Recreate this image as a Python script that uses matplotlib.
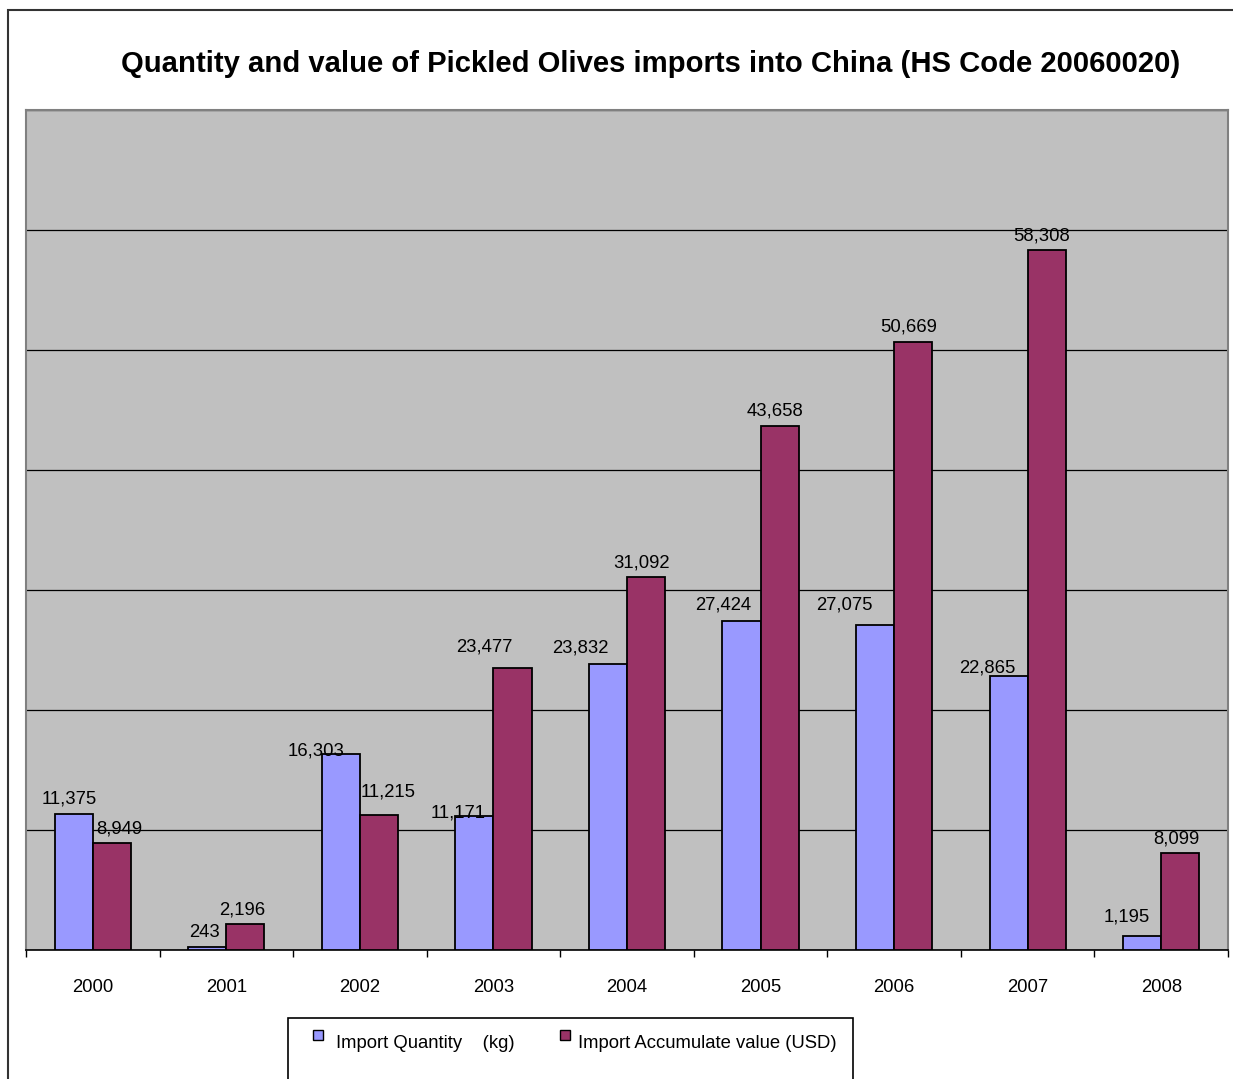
import matplotlib.pyplot as plt
from matplotlib.patches import Rectangle
import numpy as np

plt.rcParams['font.family'] = ['Liberation Sans', 'DejaVu Sans']

years = ['2000', '2001', '2002', '2003', '2004', '2005', '2006', '2007', '2008']
quantity = [11375, 243, 16303, 11171, 23832, 27424, 27075, 22865, 1195]
value = [8949, 2196, 11215, 23477, 31092, 43658, 50669, 58308, 8099]

# label nudges in pixels (dx, dy above the bar top)
qty_offsets = [(-4, 14), (-3, 15), (-25, 3), (-16, 3), (-28, 16), (-18, 16), (-31, 20), (-21, 8), (-15, 19)]
val_offsets = [(8, 14), (-3, 14), (9, 23), (-28, 21), (-5, 14), (-5, 15), (-5, 15), (-5, 14), (-4, 14)]

blue = '#9999FF'
maroon = '#993366'
fs = 13.3

W, H = 1233, 1079
fig = plt.figure(figsize=(W / 100, H / 100), dpi=100)
ax = fig.add_axes([26 / W, 1 - 950 / H, (1228 - 26) / W, (950 - 110) / H])
ax.set_facecolor('#C0C0C0')

x = np.arange(len(years))
bw = 0.285
b1 = ax.bar(x - bw / 2, quantity, bw, color=blue, edgecolor='black', linewidth=1.3, zorder=3)
b2 = ax.bar(x + bw / 2, value, bw, color=maroon, edgecolor='black', linewidth=1.3, zorder=3)

for bars, vals, offs in [(b1, quantity, qty_offsets), (b2, value, val_offsets)]:
    for bar, v, (dx, dy) in zip(bars, vals, offs):
        ax.annotate(f'{v:,}', (bar.get_x() + bar.get_width() / 2, v),
                    xytext=(dx, dy), textcoords='offset pixels',
                    ha='center', va='center', fontsize=fs, zorder=5)

ax.set_xlim(-0.5, len(years) - 0.5)
ax.set_ylim(0, 70000)
ax.set_yticks(np.arange(0, 70001, 10000))
ax.yaxis.grid(True, color='black', linewidth=0.9, zorder=0)
ax.tick_params(axis='y', length=0, labelleft=False)

ax.set_xticks(x)
ax.set_xticklabels(years, fontsize=fs)
ax.set_xticks(np.arange(-0.5, len(years), 1), minor=True)
ax.tick_params(axis='x', which='major', length=0, pad=21)
ax.tick_params(axis='x', which='minor', length=5, width=1, color='black', direction='out')

for side in ['top', 'left', 'right']:
    ax.spines[side].set_color('#808080')
    ax.spines[side].set_linewidth(1.5)
ax.spines['bottom'].set_color('black')
ax.spines['bottom'].set_linewidth(1.2)

fig.text(650.5 / W, 1 - 64 / H,
         'Quantity and value of Pickled Olives imports into China (HS Code 20060020)',
         ha='center', va='center', fontsize=21.1, fontweight='bold')

# outer chart frame
fig.patches.append(Rectangle((8 / W, -0.1), 1.2, 1.1 - 10 / H, transform=fig.transFigure,
                             fill=False, edgecolor='#333333', linewidth=1.5, clip_on=False))

# legend box
fig.patches.append(Rectangle((288 / W, -0.05), (853 - 288) / W, 0.05 + 1 - 1018 / H,
                             transform=fig.transFigure, facecolor='white',
                             edgecolor='black', linewidth=1.2, clip_on=False))
for (sx, tx, col, txt) in [(313, 336, blue, 'Import Quantity    (kg)'),
                           (560, 578, maroon, 'Import Accumulate value (USD)')]:
    fig.patches.append(Rectangle((sx / W, 1 - 1040 / H), 10 / W, 10 / H,
                                 transform=fig.transFigure, facecolor=col,
                                 edgecolor='black', linewidth=1))
    fig.text(tx / W, 1 - 1044 / H, txt, ha='left', va='center', fontsize=fs)

fig.savefig('out.png', dpi=100)
